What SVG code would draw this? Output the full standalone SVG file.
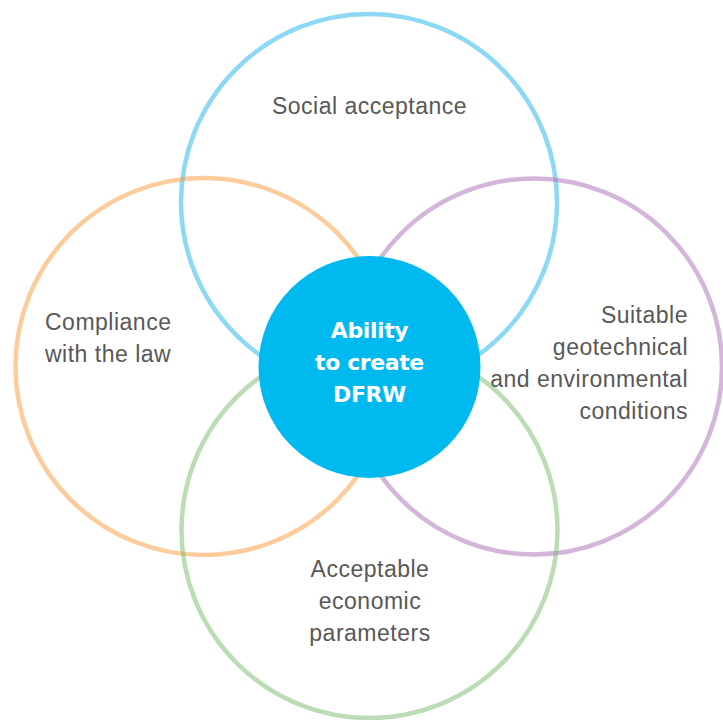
<svg xmlns="http://www.w3.org/2000/svg" width="723" height="720" viewBox="0 0 723 720">
<style>
.ring{fill:none;stroke-width:4.5;stroke-opacity:0.5}
.lbl{font-family:"Liberation Sans",Arial,sans-serif;font-size:23px;fill:#585858;letter-spacing:0.5px}
.ctr{font-family:"DejaVu Sans","Liberation Sans",sans-serif;font-size:22px;font-weight:bold;fill:#ffffff;text-anchor:middle;letter-spacing:-0.4px}
</style>
<rect width="723" height="720" fill="#ffffff"/>
<g id="social">
<circle class="ring" cx="369" cy="202" r="188" stroke="#1cb1eb"/>
<text class="lbl" x="369.5" y="114" text-anchor="middle">Social acceptance</text>
</g>
<g id="compliance">
<circle class="ring" cx="204" cy="366.5" r="188.5" stroke="#fb9a39"/>
<text class="lbl" x="45" y="330">Compliance</text>
<text class="lbl" x="45" y="362">with the law</text>
</g>
<g id="geotechnical">
<circle class="ring" cx="534" cy="366.5" r="188" stroke="#a96eb6"/>
<text class="lbl" x="688" y="323" text-anchor="end">Suitable</text>
<text class="lbl" x="688" y="355" text-anchor="end">geotechnical</text>
<text class="lbl" x="688" y="387" text-anchor="end">and environmental</text>
<text class="lbl" x="688" y="419" text-anchor="end">conditions</text>
</g>
<g id="economic">
<circle class="ring" cx="369.5" cy="530" r="188" stroke="#77b96b"/>
<text class="lbl" x="370" y="577" text-anchor="middle">Acceptable</text>
<text class="lbl" x="370" y="609" text-anchor="middle">economic</text>
<text class="lbl" x="370" y="641" text-anchor="middle">parameters</text>
</g>
<g id="center">
<circle cx="369.5" cy="367" r="111" fill="#00b9ef"/>
<text class="ctr" x="369.5" y="338">Ability</text>
<text class="ctr" x="369.5" y="370">to create</text>
<text class="ctr" x="369.5" y="402">DFRW</text>
</g>
<g id="connectors"></g>
</svg>
